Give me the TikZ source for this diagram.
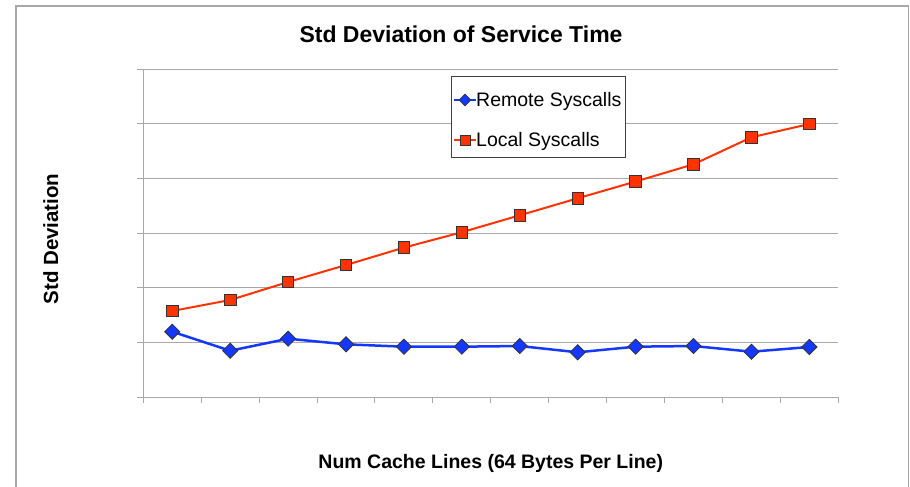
\documentclass[tikz,border=0pt]{standalone}
\usepackage{fontspec}
\setmainfont{Liberation Sans}
\usepackage{tikz}
\usetikzlibrary{shapes.geometric}

\definecolor{localred}{HTML}{FF3300}
\definecolor{remoteblue}{HTML}{1438FF}
\definecolor{gridgray}{HTML}{A8A8A8}

\tikzset{
  gridline/.style={gridgray, line width=1pt},
  localline/.style={localred, line width=2pt, line join=round},
  remoteline/.style={remoteblue, line width=2.5pt, line join=round},
  localmark/.style={rectangle, draw=black!80, fill=localred, line width=0.8pt, minimum size=11.5pt, inner sep=0pt},
  remotemark/.style={diamond, draw=black!80, fill=remoteblue, line width=0.8pt, minimum size=15.5pt, inner sep=0pt},
  keytext/.style={anchor=base west, inner sep=0pt, font=\fontsize{19.5}{23}\selectfont},
}

\begin{document}
\begin{tikzpicture}[x=1pt, y=-1pt]
  \useasboundingbox (0,0) rectangle (910,487);
  % outer frame, its bottom edge runs off the page
  \draw[gridgray, line width=1.2pt] (16,487) -- (16,6) -- (908.5,6) -- (908.5,487);

  % titles
  \node[anchor=base, font=\bfseries\fontsize{23}{27}\selectfont] (title) at (461,43) {Std Deviation of Service Time};
  \node[anchor=base, font=\bfseries\fontsize{19.5}{23}\selectfont] (xlabel) at (490.8,468) {Num Cache Lines (64 Bytes Per Line)};
  \node[anchor=base, rotate=90, font=\bfseries\fontsize{20.5}{24}\selectfont] (ylabel) at (58,239) {Std Deviation};

  \begin{scope}[shift={(143.3,397.3)}, x=57.92pt, y=54.67pt]
    % grid, axes and ticks
    \foreach \k in {1,...,6}
      \draw[gridline] (0,\k) -- (12,\k);
    \foreach \k in {0,...,6}
      \draw[gridline] (0,\k) -- ++(-6pt,0);
    \draw[gridline] (0,6) -- (0,0) -- (12,0);
    \foreach \k in {0,...,12}
      \draw[gridline] (\k,0) -- ++(0,-6pt);

    % data points
    \foreach \v [count=\i] in {1.579,1.780,2.109,2.420,2.738,3.020,3.329,3.640,3.947,4.262,4.756,4.999}
      \coordinate (r\i) at (\i-0.5,\v);
    \foreach \v [count=\i] in {1.200,0.852,1.072,0.969,0.926,0.926,0.938,0.823,0.926,0.938,0.834,0.920}
      \coordinate (b\i) at (\i-0.5,\v);

    % series
    \draw[remoteline] (b1) \foreach \i in {2,...,12} { -- (b\i) };
    \draw[localline] (r1) \foreach \i in {2,...,12} { -- (r\i) };
    \foreach \i in {1,...,12} {
      \node[remotemark] (bm\i) at (b\i) {};
      \node[localmark] (rm\i) at (r\i) {};
    }
  \end{scope}

  % legend
  \node[draw=black!75, fill=white, line width=1pt, inner sep=0pt,
        minimum width=174.3pt, minimum height=81.3pt] (legend) at (538.2,116.7) {};
  \coordinate (remkey) at (465,100);
  \coordinate (lockey) at (465,140);
  \draw[remoteline, line width=1.5pt] ([xshift=-11pt]remkey) -- ([xshift=11pt]remkey);
  \draw[localline, line width=1.5pt] ([xshift=-11pt]lockey) -- ([xshift=11pt]lockey);
  \node[remotemark, minimum size=12pt] (remmark) at (remkey) {};
  \node[localmark, minimum size=10pt] (locmark) at (lockey) {};
  \node[keytext] (remtext) at (476,106) {Remote Syscalls};
  \node[keytext] (loctext) at (476,146) {Local Syscalls};
\end{tikzpicture}
\end{document}
